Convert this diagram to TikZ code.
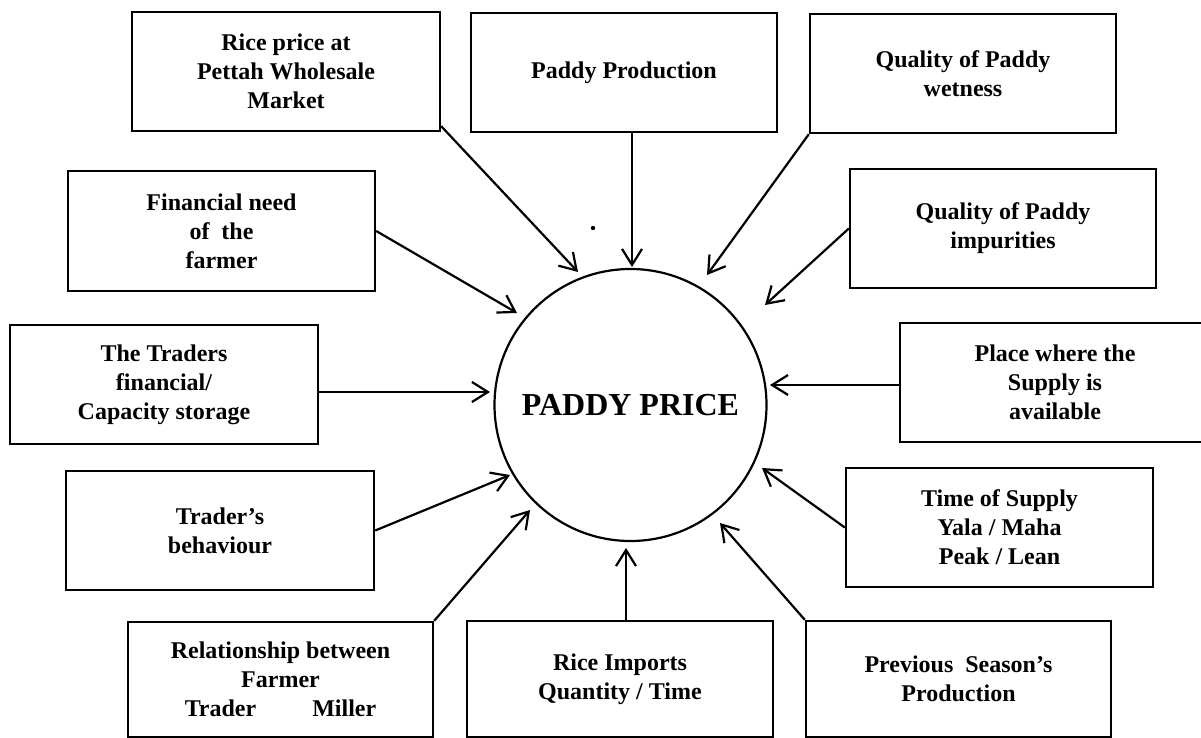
\documentclass[tikz,border=0pt]{standalone}
\usepackage{fontspec}
\setmainfont{Liberation Serif}
\usetikzlibrary{arrows.meta,calc}
\tikzset{
  box/.style={draw, line width=2.4pt, align=center, inner sep=0pt,
    font=\bfseries\fontsize{24}{29}\selectfont},
  arr/.style={line width=2.2pt, -{Straight Barb[length=16pt,width=20pt,line width=2.2pt]}},
  hub/.style={draw, circle, line width=2.2pt, inner sep=0pt, minimum size=272pt,
    font=\bfseries\fontsize{32}{36}\selectfont}
}
\begin{document}
\begin{tikzpicture}[x=1pt,y=-1pt]
\useasboundingbox (0,0) rectangle (1201,738);
\clip (0,0) rectangle (1201,738);
\fill[white] (0,0) rectangle (1201,738);

\node[hub] (price) at (630.5,405) {PADDY PRICE};

\node[box, minimum width=308pt, minimum height=119pt] (rice) at (286,71.5) {Rice price at\\Pettah Wholesale\\Market};
\node[box, minimum width=306pt, minimum height=119pt] (prod) at (624,72.5) {Paddy Production};
\node[box, minimum width=306pt, minimum height=119pt] (wet) at (963,73.5) {Quality of Paddy\\wetness};
\node[box, minimum width=307pt, minimum height=120pt] (fin) at (221.5,231) {Financial need\\of~ the\\farmer};
\node[box, minimum width=306pt, minimum height=119pt] (imp) at (1003,228.5) {Quality of Paddy\\impurities};
\node[box, minimum width=308pt, minimum height=119pt] (trad) at (164,384.5) {The Traders\\financial/\\Capacity storage};
\node[box, minimum width=310pt, minimum height=119pt] (place) at (1055,382.5) {Place where the\\Supply is\\available};
\node[box, minimum width=308pt, minimum height=119pt] (beh) at (220,530.5) {Trader's\\behaviour};
\node[box, minimum width=307pt, minimum height=119pt] (time) at (999.5,527.5) {Time of Supply\\Yala / Maha\\Peak / Lean};
\node[box, minimum width=305pt, minimum height=115pt] (rel) at (280.5,679.5) {Relationship between\\Farmer\\Trader\hspace{56pt}Miller};
\node[box, minimum width=306pt, minimum height=116pt] (imports) at (620,679) {Rice Imports\\Quantity / Time};
\node[box, minimum width=305pt, minimum height=116pt] (prev) at (958.5,679) {Previous~ Season's\\Production};

\coordinate (t1) at (578,272);
\coordinate (t2) at (632,267);
\coordinate (t3) at (707,275);
\coordinate (t4) at (765,305);
\coordinate (t5) at (517,313);
\coordinate (t6) at (490,392);
\coordinate (t7) at (770,385);
\coordinate (t8) at (510,475);
\coordinate (t9) at (762,468);
\coordinate (t10) at (530,510);
\coordinate (t11) at (626,548);
\coordinate (t12) at (720,523);

\draw[arr] ([yshift=6pt]rice.south east) -- (t1);
\draw[arr] (prod.south -| t2) -- (t2);
\draw[arr] (wet.south west) -- (t3);
\draw[arr] (imp.west) -- (t4);
\draw[arr] (fin.east) -- (t5);
\draw[arr] (trad.east |- t6) -- (t6);
\draw[arr] (place.west |- t7) -- (t7);
\draw[arr] (beh.east) -- (t8);
\draw[arr] (time.west) -- (t9);
\draw[arr] (rel.north east) -- (t10);
\draw[arr] (imports.north -| t11) -- (t11);
\draw[arr] (prev.north west) -- (t12);

\fill (593,228) circle (2.2);
\end{tikzpicture}
\end{document}
